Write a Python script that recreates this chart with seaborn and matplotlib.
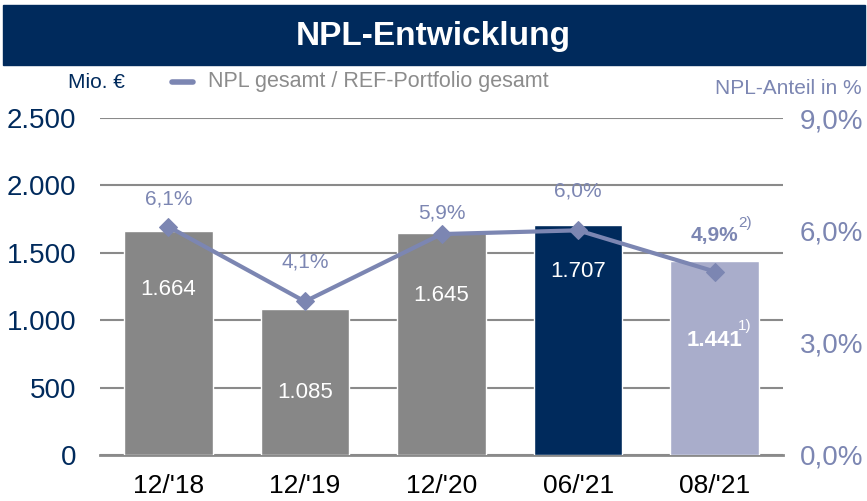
import matplotlib.pyplot as plt
import seaborn as sns
from matplotlib.patches import Rectangle

# Daten
perioden = ["12/'18", "12/'19", "12/'20", "06/'21", "08/'21"]
npl_mio = [1664, 1085, 1645, 1707, 1441]
npl_labels = ["1.664", "1.085", "1.645", "1.707", "1.441"]
npl_anteil = [6.1, 4.1, 5.9, 6.0, 4.9]
anteil_labels = ["6,1%", "4,1%", "5,9%", "6,0%", "4,9%"]
links_ticks = [0, 500, 1000, 1500, 2000, 2500]
links_labels = ["0", "500", "1.000", "1.500", "2.000", "2.500"]
rechts_ticks = [0, 3, 6, 9]
rechts_labels = ["0,0%", "3,0%", "6,0%", "9,0%"]

# wo die Beschriftungen sitzen
label_hoehe = [1230, 460, 1180, 1360, 850]
anteil_abstand = [0.75, 1.05, 0.55, 1.05, 0.95]

navy = "#002A5C"
grau = "#878787"
lila = "#A9ADCB"
linie = "#7C86B2"
farben = [grau, grau, grau, navy, lila]
schrift = ["Liberation Sans", "DejaVu Sans"]

sns.set_style("white")
plt.rcParams["font.family"] = schrift

fig = plt.figure(figsize=(8.67, 5.01), dpi=100)
ax = fig.add_axes([100 / 867, 1 - 455 / 501, 683 / 867, 337 / 501])

sns.barplot(x=perioden, y=npl_mio, hue=perioden, palette=farben, legend=False,
            width=0.65, saturation=1, ax=ax, zorder=3)
ax.set_ylim(0, 2500)
ax.set_xlim(-0.5, 4.5)
ax.set_yticks(links_ticks)
ax.set_yticklabels(links_labels, color=navy, fontsize=20)
ax.tick_params(axis="y", length=0, pad=17)
ax.yaxis.grid(True, color="#8A8A8A", linewidth=1.5, zorder=0)
ax.set_axisbelow(True)
for s in ["top", "left", "right"]:
    ax.spines[s].set_visible(False)
ax.spines["bottom"].set_color("#8A8A8A")
ax.spines["bottom"].set_linewidth(2)
ax.set_xticks(range(5))
ax.set_xticklabels(perioden, fontsize=19, color="black")
ax.set_xticks([-0.5, 0.5, 1.5, 2.5, 3.5, 4.5], minor=True)
ax.tick_params(axis="x", which="major", length=0, pad=14)
ax.tick_params(axis="x", which="minor", length=8, width=2, color="#8A8A8A", direction="out")
ax.set_xlabel("")
ax.set_ylabel("")

# Werte in den Balken
for i, (h, txt) in enumerate(zip(label_hoehe, npl_labels)):
    gewicht = "bold" if i == 4 else "normal"
    ax.text(i, h, txt, color="white", fontsize=16, ha="center", va="center",
            fontweight=gewicht, zorder=5)
ax.text(4.17, label_hoehe[4] + 110, "1)", color="white", fontsize=11, ha="left",
        va="center", zorder=5)

# NPL-Anteil
ax2 = ax.twinx()
sns.lineplot(x=list(range(5)), y=npl_anteil, ax=ax2, color=linie, linewidth=3,
             marker="D", markersize=9, markeredgecolor=linie, zorder=4)
ax2.set_ylim(0, 9)
ax2.set_yticks(rechts_ticks)
ax2.set_yticklabels(rechts_labels, color=linie, fontsize=20)
ax2.tick_params(axis="y", length=0, pad=12)
for s in ["top", "left", "right", "bottom"]:
    ax2.spines[s].set_visible(False)
for i, (p, txt) in enumerate(zip(npl_anteil, anteil_labels)):
    gewicht = "bold" if i == 4 else "normal"
    ax2.text(i, p + anteil_abstand[i], txt, color=linie, fontsize=15, ha="center",
             va="center", fontweight=gewicht)
ax2.text(4.17, npl_anteil[4] + anteil_abstand[4] + 0.35, "2)", color=linie, fontsize=11,
         ha="left", va="center")

# Kopfzeile
fig.patches.append(Rectangle((3 / 867, 1 - 65 / 501), 862 / 867, 60 / 501,
                             transform=fig.transFigure, color=navy, zorder=0))
fig.text(0.5, 1 - 36 / 501, "NPL-Entwicklung", color="white", fontsize=24,
         fontweight="bold", ha="center", va="center")

# Legende
fig.text(68 / 867, 1 - 82 / 501, "Mio. €", color=navy, fontsize=15, va="center")
fig.add_artist(plt.Line2D([172 / 867, 193 / 867], [1 - 82 / 501, 1 - 82 / 501],
                          color=linie, linewidth=4, transform=fig.transFigure))
fig.text(208 / 867, 1 - 82 / 501, "NPL gesamt / REF-Portfolio gesamt", color="#8C8C8C",
         fontsize=15.5, va="center")
fig.text(862 / 867, 1 - 88 / 501, "NPL-Anteil in %", color=linie, fontsize=15,
         va="center", ha="right")

fig.savefig("out.png", dpi=100)
